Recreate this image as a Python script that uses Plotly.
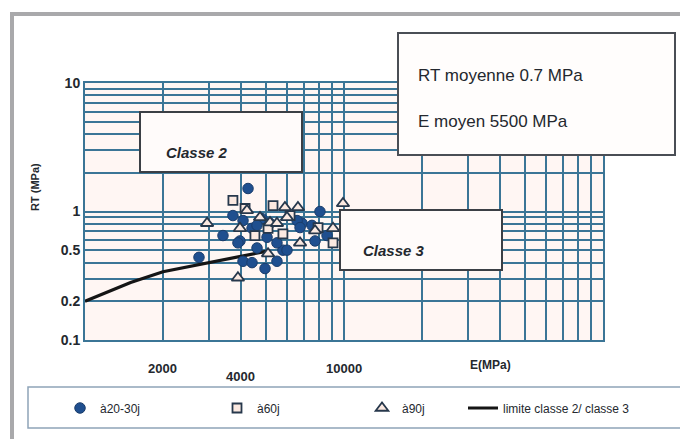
import math
import plotly.graph_objects as go

# --- data ---
E_20_30 = [4260, 2755, 3410, 8075, 3725, 4075, 4415, 4825, 5180, 3965, 4075, 4415, 4955,
           5510, 5810, 4615, 5045, 6885, 7520, 7730, 8600, 6590, 6025, 3895, 4615, 6765, 5510]
RT_20_30 = [1.51, 0.44, 0.65, 1.0, 0.93, 0.85, 0.74, 0.88, 0.81, 0.59, 0.41, 0.40, 0.36,
            0.41, 0.50, 0.78, 0.63, 0.81, 0.78, 0.59, 0.65, 0.85, 0.50, 0.57, 0.52, 0.75, 0.57]

E_60 = [3725, 5320, 9070, 5810, 4530, 6190, 4150, 5090, 7940]
RT_60 = [1.22, 1.11, 0.57, 0.67, 0.65, 0.93, 1.055, 0.74, 0.75]

E_90 = [2960, 3895, 5915, 6640, 9910, 7730, 6765, 5180, 4740, 4220, 5090, 6025, 5510, 9070, 3965]
RT_90 = [0.81, 0.305, 1.075, 1.075, 1.155, 0.71, 0.57, 0.82, 0.90, 1.02, 0.47, 0.90, 0.81, 0.74, 0.74]

E_limit = [1000, 1500, 2000, 3000, 4000, 5000]
RT_limit = [0.2, 0.28, 0.34, 0.40, 0.45, 0.49]

x_grid = [1000, 2000, 3000, 4000, 5000, 6000, 7000, 8000, 9000,
          10000, 20000, 30000, 40000, 50000, 60000, 70000, 80000, 90000, 100000]
y_grid = [0.1, 0.2, 0.3, 0.4, 0.5, 0.6, 0.7, 0.8, 0.9,
          1, 2, 3, 4, 5, 6, 7, 8, 9, 10]
y_text = ["0.1", "0.2", "", "", "0.5", "", "", "", "",
          "1", "", "", "", "", "", "", "", "", "10"]
x_labels = ["2000", "4000", "10000"]
x_label_vals = [2000, 4000, 10000]

FONT = "Arial, Liberation Sans, sans-serif"
GRID = "#3b7596"
DARK = "#24282e"

# plot area in pixels: left 85, right 603, top 83, bottom 340
L, R, T, B = 85, 603, 83, 340
W, H = R - L, B - T


def px(xp):
    return (xp - L) / W


def py(yp):
    return (B - yp) / H


fig = go.Figure()
fig.add_trace(go.Scatter(
    x=E_limit, y=RT_limit, mode="lines", name="limite classe 2/ classe 3",
    line=dict(color="#151515", width=3.2), legend="legend4"))
fig.add_trace(go.Scatter(
    x=E_20_30, y=RT_20_30, mode="markers", name="à20-30j",
    marker=dict(symbol="circle", size=10.5, color="#1f4f8f",
                line=dict(color="#1b3d6b", width=1)), legend="legend"))
fig.add_trace(go.Scatter(
    x=E_60, y=RT_60, mode="markers", name="à60j",
    marker=dict(symbol="square", size=9, color="#fbe9e1",
                line=dict(color="#27384c", width=1.8)), legend="legend2"))
fig.add_trace(go.Scatter(
    x=E_90, y=RT_90, mode="markers", name="à90j",
    marker=dict(symbol="triangle-up", size=11, color="#fbe9e1",
                line=dict(color="#27384c", width=1.8)), legend="legend3"))

axis_common = dict(type="log", showgrid=True, gridcolor=GRID, gridwidth=2,
                   zeroline=False, showline=True, linecolor=GRID, linewidth=2,
                   mirror=True, ticks="")

fig.update_xaxes(range=[3, 5], tickvals=x_grid, ticktext=[""] * len(x_grid), **axis_common)
fig.update_yaxes(range=[-1, 1], tickvals=y_grid,
                 ticktext=[("<b>" + t + "</b>") if t else "" for t in y_text],
                 tickfont=dict(family=FONT, size=14, color=DARK), **axis_common)

shapes = []
# outer grey frame
shapes.append(dict(type="rect", xref="paper", yref="paper",
                   x0=px(12), x1=px(700), y0=py(470), y1=py(14),
                   line=dict(color="#a9a9ab", width=4), fillcolor="rgba(0,0,0,0)", layer="above"))
# Classe 2 box
shapes.append(dict(type="rect", xref="paper", yref="paper",
                   x0=px(140), x1=px(302), y0=py(172), y1=py(112),
                   line=dict(color="#3b3f45", width=2), fillcolor="#fffbfa", layer="above"))
# Classe 3 box
shapes.append(dict(type="rect", xref="paper", yref="paper",
                   x0=px(340), x1=px(502), y0=py(270), y1=py(210),
                   line=dict(color="#3b3f45", width=2), fillcolor="#fffbfa", layer="above"))
# stats box
shapes.append(dict(type="rect", xref="paper", yref="paper",
                   x0=px(398), x1=px(675), y0=py(155), y1=py(33),
                   line=dict(color="#4a4e55", width=2), fillcolor="#fffdfc", layer="above"))
# legend frame
shapes.append(dict(type="rect", xref="paper", yref="paper",
                   x0=px(28), x1=px(700), y0=py(428), y1=py(387),
                   line=dict(color="#8fa4b8", width=1.5), fillcolor="rgba(0,0,0,0)", layer="above"))

annotations = []
annotations.append(dict(text="<b><i>Classe 2</i></b>", xref="paper", yref="paper",
                        x=px(164), y=py(152), xanchor="left", yanchor="middle",
                        showarrow=False, font=dict(family=FONT, size=15, color=DARK)))
annotations.append(dict(text="<b><i>Classe 3</i></b>", xref="paper", yref="paper",
                        x=px(361), y=py(250), xanchor="left", yanchor="middle",
                        showarrow=False, font=dict(family=FONT, size=15, color=DARK)))
annotations.append(dict(text="RT moyenne 0.7 MPa", xref="paper", yref="paper",
                        x=px(416), y=py(75), xanchor="left", yanchor="middle",
                        showarrow=False, font=dict(family=FONT, size=17, color=DARK)))
annotations.append(dict(text="E moyen 5500 MPa", xref="paper", yref="paper",
                        x=px(416), y=py(121), xanchor="left", yanchor="middle",
                        showarrow=False, font=dict(family=FONT, size=17, color=DARK)))
annotations.append(dict(text="<b>RT (MPa)</b>", xref="paper", yref="paper",
                        x=px(35), y=py(187), xanchor="center", yanchor="middle",
                        textangle=-90, showarrow=False,
                        font=dict(family=FONT, size=11, color=DARK)))
x_label_y = [368, 376, 368]
for lab, v, yy in zip(x_labels, x_label_vals, x_label_y):
    annotations.append(dict(text="<b>" + lab + "</b>", xref="x", yref="paper",
                            x=math.log10(v), y=py(yy), xanchor="center", yanchor="middle",
                            showarrow=False, font=dict(family=FONT, size=13, color=DARK)))
annotations.append(dict(text="<b>E(MPa)</b>", xref="paper", yref="paper",
                        x=px(490), y=py(365), xanchor="center", yanchor="middle",
                        showarrow=False, font=dict(family=FONT, size=12, color=DARK)))

leg_font = dict(family=FONT, size=12, color=DARK)
leg_y = py(408)


def leg(xp):
    return dict(x=px(xp), y=leg_y, xanchor="left", yanchor="middle",
                bgcolor="rgba(0,0,0,0)", borderwidth=0, font=leg_font)


fig.update_layout(
    width=680, height=439,
    margin=dict(l=L, r=680 - R, t=T, b=439 - B, autoexpand=False),
    paper_bgcolor="white", plot_bgcolor="#fff6f3",
    shapes=shapes, annotations=annotations,
    showlegend=True,
    legend=leg(60), legend2=leg(217), legend3=leg(362), legend4=leg(463),
)

fig.write_html("out.html", config={"displayModeBar": False},
               post_script="document.body.style.margin='0px';")
